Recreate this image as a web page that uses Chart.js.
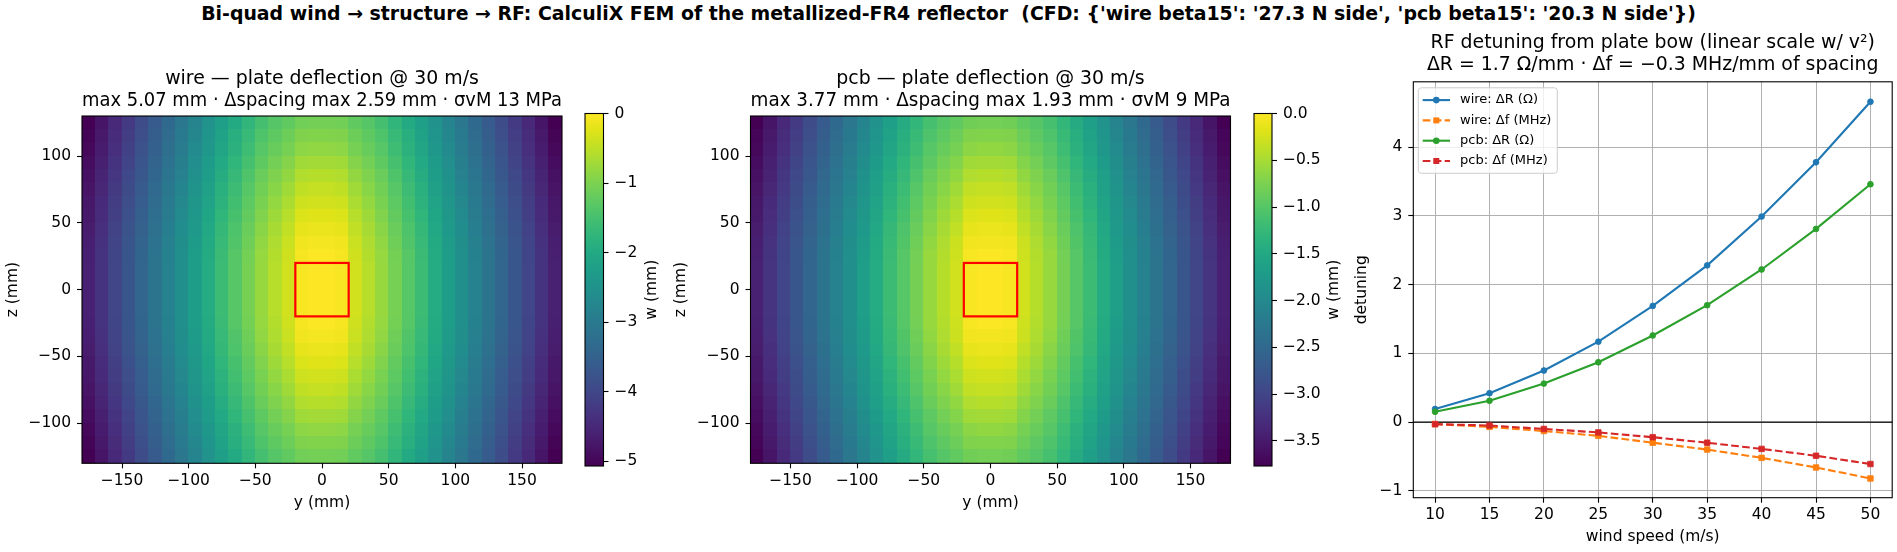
<!DOCTYPE html>
<html lang="en">
<head>
<meta charset="UTF-8">
<title>Bi-quad wind → structure → RF</title>
<style>
  html, body { margin: 0; background: #fff; }
  #fig { position: relative; width: 1897px; height: 552px; overflow: hidden; background: #fff; }
  #fig canvas { position: absolute; left: 0; top: 0; }
  #suptitle {
    position: absolute; left: 0; top: 2px; width: 1897px; text-align: center;
    font: bold 18.9px "DejaVu Sans", sans-serif; line-height: 22px; color: #000; white-space: pre;
  }
</style>
</head>
<body>
<div id="fig">
  <div id="suptitle">Bi-quad wind → structure → RF: CalculiX FEM of the metallized-FR4 reflector  (CFD: {'wire beta15': '27.3 N side', 'pcb beta15': '20.3 N side'})</div>
  <canvas id="hmWire" width="1897" height="552"></canvas>
  <canvas id="cbWire" width="1897" height="552"></canvas>
  <canvas id="hmPcb" width="1897" height="552"></canvas>
  <canvas id="cbPcb" width="1897" height="552"></canvas>
  <canvas id="rfChart" width="1897" height="552"></canvas>
</div>

<script src="https://cdn.jsdelivr.net/npm/chart.js"></script>
<script>
// ---- data: plate deflection w (mm) on a 10 mm grid, rows top (z=125) to bottom (z=-125)
const cellY = [-175,-165,-155,-145,-135,-125,-115,-105,-95,-85,-75,-65,-55,-45,-35,-25,-15,-5,5,15,25,35,45,55,65,75,85,95,105,115,125,135,145,155,165,175];
const cellZ = [125,115,105,95,85,75,65,55,45,35,25,15,5,-5,-15,-25,-35,-45,-55,-65,-75,-85,-95,-105,-115,-125];
const mountSquare = [-20, 20];

const wireW = [
  [-5.07,-4.79,-4.50,-4.21,-3.92,-3.63,-3.35,-3.07,-2.79,-2.51,-2.22,-1.98,-1.74,-1.51,-1.36,-1.25,-1.10,-1.08,-1.08,-1.10,-1.25,-1.36,-1.51,-1.74,-1.98,-2.22,-2.51,-2.79,-3.07,-3.35,-3.63,-3.92,-4.21,-4.50,-4.79,-5.07],
  [-5.02,-4.73,-4.44,-4.15,-3.86,-3.57,-3.29,-3.01,-2.73,-2.44,-2.15,-1.90,-1.66,-1.42,-1.26,-1.14,-0.97,-0.95,-0.95,-0.97,-1.14,-1.26,-1.42,-1.66,-1.90,-2.15,-2.44,-2.73,-3.01,-3.29,-3.57,-3.86,-4.15,-4.44,-4.73,-5.02],
  [-4.97,-4.69,-4.39,-4.10,-3.81,-3.52,-3.24,-2.96,-2.67,-2.39,-2.09,-1.84,-1.59,-1.35,-1.18,-1.05,-0.87,-0.84,-0.84,-0.87,-1.05,-1.18,-1.35,-1.59,-1.84,-2.09,-2.39,-2.67,-2.96,-3.24,-3.52,-3.81,-4.10,-4.39,-4.69,-4.97],
  [-4.91,-4.63,-4.33,-4.04,-3.75,-3.46,-3.17,-2.89,-2.60,-2.31,-2.01,-1.76,-1.50,-1.26,-1.08,-0.94,-0.73,-0.70,-0.70,-0.73,-0.94,-1.08,-1.26,-1.50,-1.76,-2.01,-2.31,-2.60,-2.89,-3.17,-3.46,-3.75,-4.04,-4.33,-4.63,-4.91],
  [-4.85,-4.57,-4.27,-3.98,-3.69,-3.40,-3.11,-2.83,-2.54,-2.25,-1.94,-1.68,-1.42,-1.17,-0.98,-0.83,-0.60,-0.57,-0.57,-0.60,-0.83,-0.98,-1.17,-1.42,-1.68,-1.94,-2.25,-2.54,-2.83,-3.11,-3.40,-3.69,-3.98,-4.27,-4.57,-4.85],
  [-4.80,-4.52,-4.22,-3.93,-3.63,-3.34,-3.05,-2.77,-2.48,-2.19,-1.87,-1.61,-1.35,-1.09,-0.90,-0.73,-0.49,-0.45,-0.45,-0.49,-0.73,-0.90,-1.09,-1.35,-1.61,-1.87,-2.19,-2.48,-2.77,-3.05,-3.34,-3.63,-3.93,-4.22,-4.52,-4.80],
  [-4.76,-4.47,-4.17,-3.88,-3.58,-3.29,-3.00,-2.72,-2.42,-2.13,-1.81,-1.55,-1.28,-1.02,-0.82,-0.64,-0.38,-0.35,-0.35,-0.38,-0.64,-0.82,-1.02,-1.28,-1.55,-1.81,-2.13,-2.42,-2.72,-3.00,-3.29,-3.58,-3.88,-4.17,-4.47,-4.76],
  [-4.72,-4.43,-4.13,-3.83,-3.54,-3.25,-2.96,-2.67,-2.37,-2.08,-1.76,-1.49,-1.22,-0.96,-0.74,-0.56,-0.28,-0.25,-0.25,-0.28,-0.56,-0.74,-0.96,-1.22,-1.49,-1.76,-2.08,-2.37,-2.67,-2.96,-3.25,-3.54,-3.83,-4.13,-4.43,-4.72],
  [-4.67,-4.39,-4.09,-3.79,-3.49,-3.20,-2.91,-2.62,-2.33,-2.03,-1.70,-1.43,-1.16,-0.89,-0.67,-0.48,-0.19,-0.15,-0.15,-0.19,-0.48,-0.67,-0.89,-1.16,-1.43,-1.70,-2.03,-2.33,-2.62,-2.91,-3.20,-3.49,-3.79,-4.09,-4.39,-4.67],
  [-4.64,-4.35,-4.05,-3.75,-3.46,-3.17,-2.88,-2.59,-2.29,-1.99,-1.66,-1.39,-1.11,-0.84,-0.62,-0.41,-0.11,-0.08,-0.08,-0.11,-0.41,-0.62,-0.84,-1.11,-1.39,-1.66,-1.99,-2.29,-2.59,-2.88,-3.17,-3.46,-3.75,-4.05,-4.35,-4.64],
  [-4.62,-4.33,-4.03,-3.73,-3.43,-3.14,-2.85,-2.56,-2.26,-1.96,-1.63,-1.35,-1.07,-0.80,-0.58,-0.37,-0.06,-0.02,-0.02,-0.06,-0.37,-0.58,-0.80,-1.07,-1.35,-1.63,-1.96,-2.26,-2.56,-2.85,-3.14,-3.43,-3.73,-4.03,-4.33,-4.62],
  [-4.61,-4.32,-4.02,-3.72,-3.42,-3.13,-2.84,-2.55,-2.25,-1.95,-1.62,-1.34,-1.06,-0.79,-0.56,-0.35,-0.04,0,0,-0.04,-0.35,-0.56,-0.79,-1.06,-1.34,-1.62,-1.95,-2.25,-2.55,-2.84,-3.13,-3.42,-3.72,-4.02,-4.32,-4.61],
  [-4.61,-4.32,-4.02,-3.72,-3.42,-3.13,-2.84,-2.55,-2.25,-1.95,-1.62,-1.34,-1.06,-0.79,-0.56,-0.35,-0.04,0,0,-0.04,-0.35,-0.56,-0.79,-1.06,-1.34,-1.62,-1.95,-2.25,-2.55,-2.84,-3.13,-3.42,-3.72,-4.02,-4.32,-4.61],
  [-4.61,-4.32,-4.02,-3.72,-3.42,-3.13,-2.84,-2.55,-2.25,-1.95,-1.62,-1.34,-1.06,-0.79,-0.56,-0.35,-0.04,0,0,-0.04,-0.35,-0.56,-0.79,-1.06,-1.34,-1.62,-1.95,-2.25,-2.55,-2.84,-3.13,-3.42,-3.72,-4.02,-4.32,-4.61],
  [-4.61,-4.32,-4.02,-3.72,-3.42,-3.13,-2.84,-2.55,-2.25,-1.95,-1.62,-1.34,-1.06,-0.79,-0.56,-0.35,-0.04,0,0,-0.04,-0.35,-0.56,-0.79,-1.06,-1.34,-1.62,-1.95,-2.25,-2.55,-2.84,-3.13,-3.42,-3.72,-4.02,-4.32,-4.61],
  [-4.62,-4.33,-4.03,-3.73,-3.43,-3.14,-2.85,-2.56,-2.26,-1.96,-1.63,-1.35,-1.07,-0.80,-0.58,-0.37,-0.06,-0.02,-0.02,-0.06,-0.37,-0.58,-0.80,-1.07,-1.35,-1.63,-1.96,-2.26,-2.56,-2.85,-3.14,-3.43,-3.73,-4.03,-4.33,-4.62],
  [-4.64,-4.35,-4.05,-3.75,-3.46,-3.17,-2.88,-2.59,-2.29,-1.99,-1.66,-1.39,-1.11,-0.84,-0.62,-0.41,-0.11,-0.08,-0.08,-0.11,-0.41,-0.62,-0.84,-1.11,-1.39,-1.66,-1.99,-2.29,-2.59,-2.88,-3.17,-3.46,-3.75,-4.05,-4.35,-4.64],
  [-4.67,-4.39,-4.09,-3.79,-3.49,-3.20,-2.91,-2.62,-2.33,-2.03,-1.70,-1.43,-1.16,-0.89,-0.67,-0.48,-0.19,-0.15,-0.15,-0.19,-0.48,-0.67,-0.89,-1.16,-1.43,-1.70,-2.03,-2.33,-2.62,-2.91,-3.20,-3.49,-3.79,-4.09,-4.39,-4.67],
  [-4.72,-4.43,-4.13,-3.83,-3.54,-3.25,-2.96,-2.67,-2.37,-2.08,-1.76,-1.49,-1.22,-0.96,-0.74,-0.56,-0.28,-0.25,-0.25,-0.28,-0.56,-0.74,-0.96,-1.22,-1.49,-1.76,-2.08,-2.37,-2.67,-2.96,-3.25,-3.54,-3.83,-4.13,-4.43,-4.72],
  [-4.76,-4.47,-4.17,-3.88,-3.58,-3.29,-3.00,-2.72,-2.42,-2.13,-1.81,-1.55,-1.28,-1.02,-0.82,-0.64,-0.38,-0.35,-0.35,-0.38,-0.64,-0.82,-1.02,-1.28,-1.55,-1.81,-2.13,-2.42,-2.72,-3.00,-3.29,-3.58,-3.88,-4.17,-4.47,-4.76],
  [-4.80,-4.52,-4.22,-3.93,-3.63,-3.34,-3.05,-2.77,-2.48,-2.19,-1.87,-1.61,-1.35,-1.09,-0.90,-0.73,-0.49,-0.45,-0.45,-0.49,-0.73,-0.90,-1.09,-1.35,-1.61,-1.87,-2.19,-2.48,-2.77,-3.05,-3.34,-3.63,-3.93,-4.22,-4.52,-4.80],
  [-4.85,-4.57,-4.27,-3.98,-3.69,-3.40,-3.11,-2.83,-2.54,-2.25,-1.94,-1.68,-1.42,-1.17,-0.98,-0.83,-0.60,-0.57,-0.57,-0.60,-0.83,-0.98,-1.17,-1.42,-1.68,-1.94,-2.25,-2.54,-2.83,-3.11,-3.40,-3.69,-3.98,-4.27,-4.57,-4.85],
  [-4.91,-4.63,-4.33,-4.04,-3.75,-3.46,-3.17,-2.89,-2.60,-2.31,-2.01,-1.76,-1.50,-1.26,-1.08,-0.94,-0.73,-0.70,-0.70,-0.73,-0.94,-1.08,-1.26,-1.50,-1.76,-2.01,-2.31,-2.60,-2.89,-3.17,-3.46,-3.75,-4.04,-4.33,-4.63,-4.91],
  [-4.97,-4.69,-4.39,-4.10,-3.81,-3.52,-3.24,-2.96,-2.67,-2.39,-2.09,-1.84,-1.59,-1.35,-1.18,-1.05,-0.87,-0.84,-0.84,-0.87,-1.05,-1.18,-1.35,-1.59,-1.84,-2.09,-2.39,-2.67,-2.96,-3.24,-3.52,-3.81,-4.10,-4.39,-4.69,-4.97],
  [-5.02,-4.73,-4.44,-4.15,-3.86,-3.57,-3.29,-3.01,-2.73,-2.44,-2.15,-1.90,-1.66,-1.42,-1.26,-1.14,-0.97,-0.95,-0.95,-0.97,-1.14,-1.26,-1.42,-1.66,-1.90,-2.15,-2.44,-2.73,-3.01,-3.29,-3.57,-3.86,-4.15,-4.44,-4.73,-5.02],
  [-5.07,-4.79,-4.50,-4.21,-3.92,-3.63,-3.35,-3.07,-2.79,-2.51,-2.22,-1.98,-1.74,-1.51,-1.36,-1.25,-1.10,-1.08,-1.08,-1.10,-1.25,-1.36,-1.51,-1.74,-1.98,-2.22,-2.51,-2.79,-3.07,-3.35,-3.63,-3.92,-4.21,-4.50,-4.79,-5.07]
];

const pcbW = [
  [-3.77,-3.56,-3.35,-3.13,-2.91,-2.70,-2.49,-2.28,-2.07,-1.87,-1.65,-1.47,-1.29,-1.12,-1.01,-0.93,-0.82,-0.80,-0.80,-0.82,-0.93,-1.01,-1.12,-1.29,-1.47,-1.65,-1.87,-2.07,-2.28,-2.49,-2.70,-2.91,-3.13,-3.35,-3.56,-3.77],
  [-3.73,-3.52,-3.30,-3.09,-2.87,-2.65,-2.45,-2.24,-2.03,-1.81,-1.60,-1.41,-1.23,-1.06,-0.94,-0.85,-0.72,-0.71,-0.71,-0.72,-0.85,-0.94,-1.06,-1.23,-1.41,-1.60,-1.81,-2.03,-2.24,-2.45,-2.65,-2.87,-3.09,-3.30,-3.52,-3.73],
  [-3.70,-3.49,-3.26,-3.05,-2.83,-2.62,-2.41,-2.20,-1.99,-1.78,-1.55,-1.37,-1.18,-1.00,-0.88,-0.78,-0.65,-0.62,-0.62,-0.65,-0.78,-0.88,-1.00,-1.18,-1.37,-1.55,-1.78,-1.99,-2.20,-2.41,-2.62,-2.83,-3.05,-3.26,-3.49,-3.70],
  [-3.65,-3.44,-3.22,-3.00,-2.79,-2.57,-2.36,-2.15,-1.93,-1.72,-1.49,-1.31,-1.12,-0.94,-0.80,-0.70,-0.54,-0.52,-0.52,-0.54,-0.70,-0.80,-0.94,-1.12,-1.31,-1.49,-1.72,-1.93,-2.15,-2.36,-2.57,-2.79,-3.00,-3.22,-3.44,-3.65],
  [-3.61,-3.40,-3.18,-2.96,-2.74,-2.53,-2.31,-2.10,-1.89,-1.67,-1.44,-1.25,-1.06,-0.87,-0.73,-0.62,-0.45,-0.42,-0.42,-0.45,-0.62,-0.73,-0.87,-1.06,-1.25,-1.44,-1.67,-1.89,-2.10,-2.31,-2.53,-2.74,-2.96,-3.18,-3.40,-3.61],
  [-3.57,-3.36,-3.14,-2.92,-2.70,-2.48,-2.27,-2.06,-1.84,-1.63,-1.39,-1.20,-1.00,-0.81,-0.67,-0.54,-0.36,-0.33,-0.33,-0.36,-0.54,-0.67,-0.81,-1.00,-1.20,-1.39,-1.63,-1.84,-2.06,-2.27,-2.48,-2.70,-2.92,-3.14,-3.36,-3.57],
  [-3.54,-3.32,-3.10,-2.89,-2.66,-2.45,-2.23,-2.02,-1.80,-1.58,-1.35,-1.15,-0.95,-0.76,-0.61,-0.48,-0.28,-0.26,-0.26,-0.28,-0.48,-0.61,-0.76,-0.95,-1.15,-1.35,-1.58,-1.80,-2.02,-2.23,-2.45,-2.66,-2.89,-3.10,-3.32,-3.54],
  [-3.51,-3.29,-3.07,-2.85,-2.63,-2.42,-2.20,-1.99,-1.76,-1.55,-1.31,-1.11,-0.91,-0.71,-0.55,-0.42,-0.21,-0.19,-0.19,-0.21,-0.42,-0.55,-0.71,-0.91,-1.11,-1.31,-1.55,-1.76,-1.99,-2.20,-2.42,-2.63,-2.85,-3.07,-3.29,-3.51],
  [-3.47,-3.26,-3.04,-2.82,-2.60,-2.38,-2.16,-1.95,-1.73,-1.51,-1.26,-1.06,-0.86,-0.66,-0.50,-0.36,-0.14,-0.11,-0.11,-0.14,-0.36,-0.50,-0.66,-0.86,-1.06,-1.26,-1.51,-1.73,-1.95,-2.16,-2.38,-2.60,-2.82,-3.04,-3.26,-3.47],
  [-3.45,-3.23,-3.01,-2.79,-2.57,-2.36,-2.14,-1.93,-1.70,-1.48,-1.23,-1.03,-0.83,-0.62,-0.46,-0.30,-0.08,-0.06,-0.06,-0.08,-0.30,-0.46,-0.62,-0.83,-1.03,-1.23,-1.48,-1.70,-1.93,-2.14,-2.36,-2.57,-2.79,-3.01,-3.23,-3.45],
  [-3.44,-3.22,-3.00,-2.77,-2.55,-2.33,-2.12,-1.90,-1.68,-1.46,-1.21,-1.00,-0.80,-0.59,-0.43,-0.28,-0.04,-0.01,-0.01,-0.04,-0.28,-0.43,-0.59,-0.80,-1.00,-1.21,-1.46,-1.68,-1.90,-2.12,-2.33,-2.55,-2.77,-3.00,-3.22,-3.44],
  [-3.43,-3.21,-2.99,-2.77,-2.54,-2.33,-2.11,-1.90,-1.67,-1.45,-1.20,-1.00,-0.79,-0.59,-0.42,-0.26,-0.03,0,0,-0.03,-0.26,-0.42,-0.59,-0.79,-1.00,-1.20,-1.45,-1.67,-1.90,-2.11,-2.33,-2.54,-2.77,-2.99,-3.21,-3.43],
  [-3.43,-3.21,-2.99,-2.77,-2.54,-2.33,-2.11,-1.90,-1.67,-1.45,-1.20,-1.00,-0.79,-0.59,-0.42,-0.26,-0.03,0,0,-0.03,-0.26,-0.42,-0.59,-0.79,-1.00,-1.20,-1.45,-1.67,-1.90,-2.11,-2.33,-2.54,-2.77,-2.99,-3.21,-3.43],
  [-3.43,-3.21,-2.99,-2.77,-2.54,-2.33,-2.11,-1.90,-1.67,-1.45,-1.20,-1.00,-0.79,-0.59,-0.42,-0.26,-0.03,0,0,-0.03,-0.26,-0.42,-0.59,-0.79,-1.00,-1.20,-1.45,-1.67,-1.90,-2.11,-2.33,-2.54,-2.77,-2.99,-3.21,-3.43],
  [-3.43,-3.21,-2.99,-2.77,-2.54,-2.33,-2.11,-1.90,-1.67,-1.45,-1.20,-1.00,-0.79,-0.59,-0.42,-0.26,-0.03,0,0,-0.03,-0.26,-0.42,-0.59,-0.79,-1.00,-1.20,-1.45,-1.67,-1.90,-2.11,-2.33,-2.54,-2.77,-2.99,-3.21,-3.43],
  [-3.44,-3.22,-3.00,-2.77,-2.55,-2.33,-2.12,-1.90,-1.68,-1.46,-1.21,-1.00,-0.80,-0.59,-0.43,-0.28,-0.04,-0.01,-0.01,-0.04,-0.28,-0.43,-0.59,-0.80,-1.00,-1.21,-1.46,-1.68,-1.90,-2.12,-2.33,-2.55,-2.77,-3.00,-3.22,-3.44],
  [-3.45,-3.23,-3.01,-2.79,-2.57,-2.36,-2.14,-1.93,-1.70,-1.48,-1.23,-1.03,-0.83,-0.62,-0.46,-0.30,-0.08,-0.06,-0.06,-0.08,-0.30,-0.46,-0.62,-0.83,-1.03,-1.23,-1.48,-1.70,-1.93,-2.14,-2.36,-2.57,-2.79,-3.01,-3.23,-3.45],
  [-3.47,-3.26,-3.04,-2.82,-2.60,-2.38,-2.16,-1.95,-1.73,-1.51,-1.26,-1.06,-0.86,-0.66,-0.50,-0.36,-0.14,-0.11,-0.11,-0.14,-0.36,-0.50,-0.66,-0.86,-1.06,-1.26,-1.51,-1.73,-1.95,-2.16,-2.38,-2.60,-2.82,-3.04,-3.26,-3.47],
  [-3.51,-3.29,-3.07,-2.85,-2.63,-2.42,-2.20,-1.99,-1.76,-1.55,-1.31,-1.11,-0.91,-0.71,-0.55,-0.42,-0.21,-0.19,-0.19,-0.21,-0.42,-0.55,-0.71,-0.91,-1.11,-1.31,-1.55,-1.76,-1.99,-2.20,-2.42,-2.63,-2.85,-3.07,-3.29,-3.51],
  [-3.54,-3.32,-3.10,-2.89,-2.66,-2.45,-2.23,-2.02,-1.80,-1.58,-1.35,-1.15,-0.95,-0.76,-0.61,-0.48,-0.28,-0.26,-0.26,-0.28,-0.48,-0.61,-0.76,-0.95,-1.15,-1.35,-1.58,-1.80,-2.02,-2.23,-2.45,-2.66,-2.89,-3.10,-3.32,-3.54],
  [-3.57,-3.36,-3.14,-2.92,-2.70,-2.48,-2.27,-2.06,-1.84,-1.63,-1.39,-1.20,-1.00,-0.81,-0.67,-0.54,-0.36,-0.33,-0.33,-0.36,-0.54,-0.67,-0.81,-1.00,-1.20,-1.39,-1.63,-1.84,-2.06,-2.27,-2.48,-2.70,-2.92,-3.14,-3.36,-3.57],
  [-3.61,-3.40,-3.18,-2.96,-2.74,-2.53,-2.31,-2.10,-1.89,-1.67,-1.44,-1.25,-1.06,-0.87,-0.73,-0.62,-0.45,-0.42,-0.42,-0.45,-0.62,-0.73,-0.87,-1.06,-1.25,-1.44,-1.67,-1.89,-2.10,-2.31,-2.53,-2.74,-2.96,-3.18,-3.40,-3.61],
  [-3.65,-3.44,-3.22,-3.00,-2.79,-2.57,-2.36,-2.15,-1.93,-1.72,-1.49,-1.31,-1.12,-0.94,-0.80,-0.70,-0.54,-0.52,-0.52,-0.54,-0.70,-0.80,-0.94,-1.12,-1.31,-1.49,-1.72,-1.93,-2.15,-2.36,-2.57,-2.79,-3.00,-3.22,-3.44,-3.65],
  [-3.70,-3.49,-3.26,-3.05,-2.83,-2.62,-2.41,-2.20,-1.99,-1.78,-1.55,-1.37,-1.18,-1.00,-0.88,-0.78,-0.65,-0.62,-0.62,-0.65,-0.78,-0.88,-1.00,-1.18,-1.37,-1.55,-1.78,-1.99,-2.20,-2.41,-2.62,-2.83,-3.05,-3.26,-3.49,-3.70],
  [-3.73,-3.52,-3.30,-3.09,-2.87,-2.65,-2.45,-2.24,-2.03,-1.81,-1.60,-1.41,-1.23,-1.06,-0.94,-0.85,-0.72,-0.71,-0.71,-0.72,-0.85,-0.94,-1.06,-1.23,-1.41,-1.60,-1.81,-2.03,-2.24,-2.45,-2.65,-2.87,-3.09,-3.30,-3.52,-3.73],
  [-3.77,-3.56,-3.35,-3.13,-2.91,-2.70,-2.49,-2.28,-2.07,-1.87,-1.65,-1.47,-1.29,-1.12,-1.01,-0.93,-0.82,-0.80,-0.80,-0.82,-0.93,-1.01,-1.12,-1.29,-1.47,-1.65,-1.87,-2.07,-2.28,-2.49,-2.70,-2.91,-3.13,-3.35,-3.56,-3.77]
];

// ---- data: RF detuning vs wind speed
const windSpeed = [10, 15, 20, 25, 30, 35, 40, 45, 50];
const wireDR = [0.19, 0.42, 0.75, 1.17, 1.69, 2.28, 2.99, 3.78, 4.66];
const wireDf = [-0.03, -0.07, -0.13, -0.20, -0.30, -0.40, -0.52, -0.66, -0.82];
const pcbDR  = [0.15, 0.31, 0.56, 0.87, 1.26, 1.70, 2.22, 2.81, 3.46];
const pcbDf  = [-0.03, -0.05, -0.10, -0.15, -0.22, -0.30, -0.39, -0.49, -0.61];

// ---- ticks
const hmYTicks = [-150, -100, -50, 0, 50, 100, 150];
const hmYTickLabels = ['−150', '−100', '−50', '0', '50', '100', '150'];
const hmZTicks = [-100, -50, 0, 50, 100];
const hmZTickLabels = ['−100', '−50', '0', '50', '100'];
const cbWireTicks = [-5, -4, -3, -2, -1, 0];
const cbWireTickLabels = ['−5', '−4', '−3', '−2', '−1', '0'];
const cbPcbTicks = [-3.5, -3, -2.5, -2, -1.5, -1, -0.5, 0];
const cbPcbTickLabels = ['−3.5', '−3.0', '−2.5', '−2.0', '−1.5', '−1.0', '−0.5', '0.0'];
const rfXTicks = [10, 15, 20, 25, 30, 35, 40, 45, 50];
const rfXTickLabels = ['10', '15', '20', '25', '30', '35', '40', '45', '50'];
const rfYTicks = [-1, 0, 1, 2, 3, 4];
const rfYTickLabels = ['−1', '0', '1', '2', '3', '4'];

// ---- look
const W = 1897, H = 552;
const FONT = "'DejaVu Sans', sans-serif";
const TICK_FONT = { family: FONT, size: 15.5 };
const TITLE_FONT = { family: FONT, size: 18.9, weight: 'normal', lineHeight: 1.14 };
Chart.defaults.font.family = FONT;
Chart.defaults.color = '#000';

const VIRIDIS = ['#440154','#471365','#482475','#463480','#414487','#3b528b','#355f8d','#2f6c8e','#2a788e','#25848e',
  '#21918c','#1e9c89','#22a884','#2fb47c','#44bf70','#5ec962','#7ad151','#9bd93c','#bddf26','#dfe318','#fde725'];
const VIR_RGB = VIRIDIS.map(h => [1, 3, 5].map(k => parseInt(h.substr(k, 2), 16)));
function viridis(t) {
  t = Math.max(0, Math.min(1, t));
  const p = t * (VIR_RGB.length - 1);
  const i = Math.min(VIR_RGB.length - 2, Math.floor(p));
  const f = p - i;
  const c = VIR_RGB[i].map((a, k) => Math.round(a + (VIR_RGB[i + 1][k] - a) * f));
  return `rgb(${c[0]},${c[1]},${c[2]})`;
}

function fixedTicks(values) {
  return scale => { scale.ticks = values.map(v => ({ value: v })); };
}

const framePlugin = {
  id: 'frame',
  afterDatasetsDraw(chart) {
    const { ctx, chartArea: a } = chart;
    ctx.save();
    ctx.strokeStyle = '#000';
    ctx.lineWidth = 1.1;
    ctx.strokeRect(a.left, a.top, a.right - a.left, a.bottom - a.top);
    ctx.restore();
  }
};

function heatPlugin(grid, vmin, vmax) {
  return {
    id: 'heat',
    beforeDatasetsDraw(chart) {
      const { ctx, chartArea: a, scales: { x, y } } = chart;
      const hw = (cellY[1] - cellY[0]) / 2;
      const hh = (cellZ[0] - cellZ[1]) / 2;
      ctx.save();
      ctx.beginPath();
      ctx.rect(a.left, a.top, a.right - a.left, a.bottom - a.top);
      ctx.clip();
      grid.forEach((row, i) => {
        const y0 = Math.floor(y.getPixelForValue(cellZ[i] + hh));
        const y1 = Math.ceil(y.getPixelForValue(cellZ[i] - hh));
        row.forEach((v, j) => {
          const x0 = Math.floor(x.getPixelForValue(cellY[j] - hw));
          const x1 = Math.ceil(x.getPixelForValue(cellY[j] + hw));
          ctx.fillStyle = viridis((v - vmin) / (vmax - vmin));
          ctx.fillRect(x0, y0, x1 - x0, y1 - y0);
        });
      });
      // mount footprint
      const sx0 = x.getPixelForValue(mountSquare[0]), sx1 = x.getPixelForValue(mountSquare[1]);
      const sy0 = y.getPixelForValue(mountSquare[1]), sy1 = y.getPixelForValue(mountSquare[0]);
      ctx.strokeStyle = '#ff0000';
      ctx.lineWidth = 2.2;
      ctx.strokeRect(sx0, sy0, sx1 - sx0, sy1 - sy0);
      ctx.restore();
    }
  };
}

function heatmapChart(id, grid, vmin, vmax, title, box) {
  const AXW = 82, XH = 49, TITLE_PAD_B = 4.2;
  const titleH = 2 * TITLE_FONT.size * TITLE_FONT.lineHeight + TITLE_PAD_B;
  return new Chart(document.getElementById(id), {
    type: 'scatter',
    data: { datasets: [{ data: [] }] },
    options: {
      responsive: false,
      animation: false,
      events: [],
      layout: { padding: { left: box.l - AXW, right: W - box.r, top: box.t - titleH, bottom: H - box.b - XH } },
      plugins: {
        legend: { display: false },
        tooltip: { enabled: false },
        title: { display: true, text: title, fullSize: false, color: '#000', font: TITLE_FONT, padding: { top: 0, bottom: TITLE_PAD_B } }
      },
      scales: {
        x: {
          type: 'linear', min: -180, max: 180,
          afterBuildTicks: fixedTicks(hmYTicks),
          afterFit: s => { s.height = XH; },
          ticks: { font: TICK_FONT, color: '#000', padding: 3, autoSkip: false, maxRotation: 0, callback: (v, i) => hmYTickLabels[i] },
          grid: { drawOnChartArea: false, tickLength: 5, tickColor: '#000', tickWidth: 1.1 },
          border: { display: false },
          title: { display: true, text: 'y (mm)', font: TICK_FONT, color: '#000', padding: { top: 0, bottom: 0 } }
        },
        y: {
          type: 'linear', min: -130, max: 130,
          afterBuildTicks: fixedTicks(hmZTicks),
          afterFit: s => { s.width = AXW; },
          ticks: { font: TICK_FONT, color: '#000', padding: 6, autoSkip: false, callback: (v, i) => hmZTickLabels[i] },
          grid: { drawOnChartArea: false, tickLength: 5, tickColor: '#000', tickWidth: 1.1 },
          border: { display: false },
          title: { display: true, text: 'z (mm)', font: TICK_FONT, color: '#000', padding: { top: 3.5, bottom: 0 } }
        }
      }
    },
    plugins: [heatPlugin(grid, vmin, vmax), framePlugin]
  });
}

function colorbarPlugin(vmin, vmax, label, labelOffset) {
  return {
    id: 'colorbar',
    beforeDatasetsDraw(chart) {
      const { ctx, chartArea: a, scales: { y } } = chart;
      const top = y.getPixelForValue(vmax), bottom = y.getPixelForValue(vmin);
      const g = ctx.createLinearGradient(0, bottom, 0, top);
      VIRIDIS.forEach((c, i) => g.addColorStop(i / (VIRIDIS.length - 1), c));
      ctx.save();
      ctx.fillStyle = g;
      ctx.fillRect(a.left, top, a.right - a.left, bottom - top);
      ctx.restore();
    },
    afterDraw(chart) {
      const { ctx, chartArea: a } = chart;
      ctx.save();
      ctx.translate(a.right + labelOffset, (a.top + a.bottom) / 2);
      ctx.rotate(-Math.PI / 2);
      ctx.font = `${TICK_FONT.size}px ${FONT}`;
      ctx.fillStyle = '#000';
      ctx.textAlign = 'center';
      ctx.textBaseline = 'middle';
      ctx.fillText(label, 0, 0);
      ctx.restore();
    }
  };
}

function colorbarChart(id, vmin, vmax, ticks, tickLabels, box, labelOffset) {
  const CBW = 60;
  return new Chart(document.getElementById(id), {
    type: 'scatter',
    data: { datasets: [{ data: [] }] },
    options: {
      responsive: false,
      animation: false,
      events: [],
      layout: { padding: { left: box.l, right: W - box.r - CBW, top: box.t, bottom: H - box.b } },
      plugins: { legend: { display: false }, tooltip: { enabled: false } },
      scales: {
        x: { type: 'linear', display: false },
        y: {
          type: 'linear', position: 'right', min: vmin, max: vmax,
          afterBuildTicks: fixedTicks(ticks),
          afterFit: s => { s.width = CBW; },
          ticks: { font: TICK_FONT, color: '#000', padding: 6, autoSkip: false, callback: (v, i) => tickLabels[i] },
          grid: { drawOnChartArea: false, tickLength: 5, tickColor: '#000', tickWidth: 1.1 },
          border: { display: false }
        }
      }
    },
    plugins: [colorbarPlugin(vmin, vmax, 'w (mm)', labelOffset), framePlugin]
  });
}

heatmapChart('hmWire', wireW, -5.07, 0,
  ['wire — plate deflection @ 30 m/s', 'max 5.07 mm · Δspacing max 2.59 mm · σvM 13 MPa'],
  { l: 82, r: 562, t: 116, b: 463.3 });
colorbarChart('cbWire', -5.07, 0, cbWireTicks, cbWireTickLabels, { l: 585, r: 603.5, t: 113.5, b: 466 }, 48);

heatmapChart('hmPcb', pcbW, -3.77, 0,
  ['pcb — plate deflection @ 30 m/s', 'max 3.77 mm · Δspacing max 1.93 mm · σvM 9 MPa'],
  { l: 750.5, r: 1230.5, t: 116, b: 463.3 });
colorbarChart('cbPcb', -3.77, 0, cbPcbTicks, cbPcbTickLabels, { l: 1254, r: 1272, t: 113.5, b: 466 }, 61.5);

// ---- RF detuning line chart
const zeroLinePlugin = {
  id: 'zeroLine',
  beforeDatasetsDraw(chart) {
    const { ctx, chartArea: a, scales: { y } } = chart;
    const py = y.getPixelForValue(0);
    ctx.save();
    ctx.strokeStyle = '#000';
    ctx.lineWidth = 1.1;
    ctx.beginPath();
    ctx.moveTo(a.left, py);
    ctx.lineTo(a.right, py);
    ctx.stroke();
    ctx.restore();
  }
};

function drawMarker(ctx, style, x, y, color) {
  ctx.fillStyle = color;
  ctx.beginPath();
  if (style === 'rect') ctx.rect(x - 3, y - 3, 6, 6);
  else ctx.arc(x, y, 3.3, 0, Math.PI * 2);
  ctx.fill();
}

const legendPlugin = {
  id: 'mplLegend',
  afterDraw(chart) {
    const { ctx, chartArea: a } = chart;
    const x0 = a.left + 5, y0 = a.top + 6, w = 139, h = 85.5, r = 3;
    ctx.save();
    ctx.beginPath();
    ctx.moveTo(x0 + r, y0);
    ctx.arcTo(x0 + w, y0, x0 + w, y0 + h, r);
    ctx.arcTo(x0 + w, y0 + h, x0, y0 + h, r);
    ctx.arcTo(x0, y0 + h, x0, y0, r);
    ctx.arcTo(x0, y0, x0 + w, y0, r);
    ctx.closePath();
    ctx.fillStyle = 'rgba(255,255,255,0.8)';
    ctx.fill();
    ctx.strokeStyle = '#cccccc';
    ctx.lineWidth = 1;
    ctx.stroke();
    ctx.font = `13px ${FONT}`;
    ctx.textBaseline = 'middle';
    ctx.textAlign = 'left';
    chart.data.datasets.forEach((ds, i) => {
      const cy = y0 + 12.3 + i * 20.3;
      ctx.strokeStyle = ds.borderColor;
      ctx.lineWidth = ds.borderWidth;
      ctx.setLineDash(ds.borderDash || []);
      ctx.beginPath();
      ctx.moveTo(x0 + 4.4, cy);
      ctx.lineTo(x0 + 31.7, cy);
      ctx.stroke();
      ctx.setLineDash([]);
      drawMarker(ctx, ds.pointStyle, x0 + 18, cy, ds.borderColor);
      ctx.fillStyle = '#000';
      ctx.fillText(ds.label, x0 + 41.7, cy);
    });
    ctx.restore();
  }
};

function series(label, ys, color, dashed, order) {
  return {
    label,
    data: windSpeed.map((x, i) => ({ x, y: ys[i] })),
    borderColor: color,
    backgroundColor: color,
    borderWidth: 2.1,
    borderDash: dashed ? [7.7, 3.3] : [],
    pointStyle: dashed ? 'rect' : 'circle',
    pointRadius: dashed ? 3.9 : 2.9,
    pointBorderWidth: 0.8,
    pointBackgroundColor: color,
    pointBorderColor: color,
    tension: 0,
    order
  };
}

(function () {
  const box = { l: 1413.3, r: 1892.6, t: 81.8, b: 497.7 };
  const AXW = 82, XH = 48.9, TITLE_PAD_B = 6;
  const titleH = 2 * TITLE_FONT.size * TITLE_FONT.lineHeight + TITLE_PAD_B;
  new Chart(document.getElementById('rfChart'), {
    type: 'line',
    data: {
      datasets: [
        series('wire: ΔR (Ω)', wireDR, '#1f77b4', false, 4),
        series('wire: Δf (MHz)', wireDf, '#ff7f0e', true, 3),
        series('pcb: ΔR (Ω)', pcbDR, '#2ca02c', false, 2),
        series('pcb: Δf (MHz)', pcbDf, '#d62728', true, 1)
      ]
    },
    options: {
      responsive: false,
      animation: false,
      events: [],
      layout: { padding: { left: box.l - AXW, right: W - box.r, top: box.t - titleH, bottom: H - box.b - XH } },
      plugins: {
        legend: { display: false },
        tooltip: { enabled: false },
        title: {
          display: true, fullSize: false, color: '#000', font: TITLE_FONT, padding: { top: 0, bottom: TITLE_PAD_B },
          text: ['RF detuning from plate bow (linear scale w/ v²)', 'ΔR = 1.7 Ω/mm · Δf = −0.3 MHz/mm of spacing']
        }
      },
      scales: {
        x: {
          type: 'linear', min: 8, max: 52,
          afterBuildTicks: fixedTicks(rfXTicks),
          afterFit: s => { s.height = XH; },
          ticks: { font: TICK_FONT, color: '#000', padding: 3, autoSkip: false, maxRotation: 0, callback: (v, i) => rfXTickLabels[i] },
          grid: { color: '#b0b0b0', lineWidth: 1, tickLength: 5, tickColor: '#000', tickWidth: 1.1 },
          border: { display: false },
          title: { display: true, text: 'wind speed (m/s)', font: TICK_FONT, color: '#000', padding: { top: 0, bottom: 0 } }
        },
        y: {
          type: 'linear', min: -1.10, max: 4.95,
          afterBuildTicks: fixedTicks(rfYTicks),
          afterFit: s => { s.width = AXW; },
          ticks: { font: TICK_FONT, color: '#000', padding: 6, autoSkip: false, callback: (v, i) => rfYTickLabels[i] },
          grid: { color: '#b0b0b0', lineWidth: 1, tickLength: 5, tickColor: '#000', tickWidth: 1.1 },
          border: { display: false },
          title: { display: true, text: 'detuning', font: TICK_FONT, color: '#000', padding: { top: 21.4, bottom: 0 } }
        }
      }
    },
    plugins: [zeroLinePlugin, framePlugin, legendPlugin]
  });
})();
</script>
</body>
</html>
